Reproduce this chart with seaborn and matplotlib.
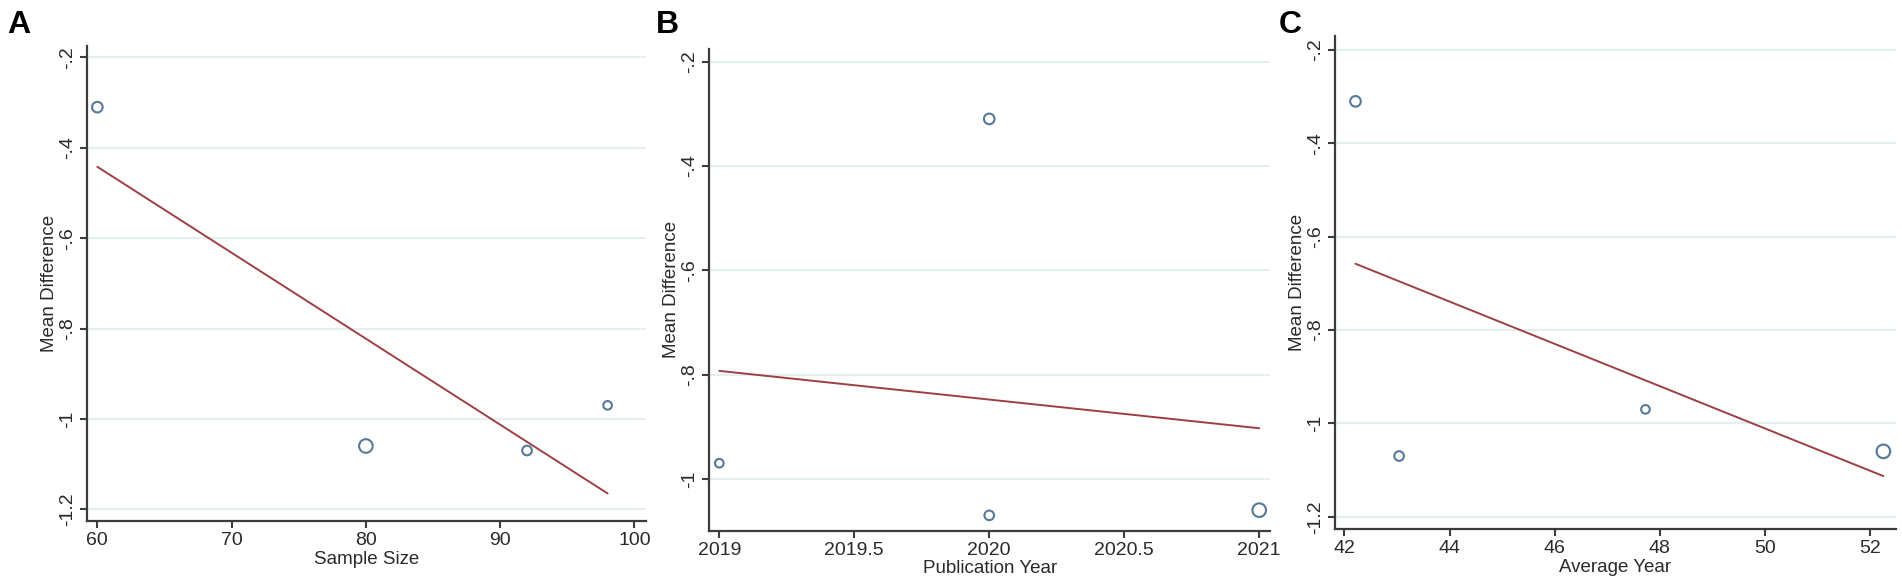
import numpy as np
import pandas as pd
import matplotlib
matplotlib.use("Agg")
import matplotlib.pyplot as plt
import seaborn as sns
from matplotlib import font_manager as fm

# ---------------- data ----------------
study_md = [-0.31, -1.06, -1.07, -0.97]          # mean difference per study
study_weight = [12, 15, 11, 10]                 # relative study weight (bubble size)
sample_size = [60, 80, 92, 98]
pub_year = [2020, 2021, 2020, 2019]
avg_year = [42.21, 52.26, 43.04, 47.73]

fit_sample_x = [60, 98]
fit_sample_y = [-0.442, -1.165]
fit_pub_x = [2019, 2021]
fit_pub_y = [-0.793, -0.903]
fit_avg_x = [42.21, 52.26]
fit_avg_y = [-0.658, -1.113]

xticks_a = [60, 70, 80, 90, 100]
xticklabels_a = ["60", "70", "80", "90", "100"]
xticks_b = [2019, 2019.5, 2020, 2020.5, 2021]
xticklabels_b = ["2019", "2019.5", "2020", "2020.5", "2021"]
xticks_c = [42, 44, 46, 48, 50, 52]
xticklabels_c = ["42", "44", "46", "48", "50", "52"]
yticks_ac = [-0.2, -0.4, -0.6, -0.8, -1.0, -1.2]
yticklabels_ac = ["-.2", "-.4", "-.6", "-.8", "-1", "-1.2"]
yticks_b = [-0.2, -0.4, -0.6, -0.8, -1.0]
yticklabels_b = ["-.2", "-.4", "-.6", "-.8", "-1"]

panel_letters = ["A", "B", "C"]
x_titles = ["Sample Size", "Publication Year", "Average Year"]
y_title = "Mean Difference"

# ---------------- style ----------------
sns.set_style("white")
names = {f.name for f in fm.fontManager.ttflist}
narrow = "Liberation Sans Narrow" if "Liberation Sans Narrow" in names else "Liberation Sans"
plt.rcParams["font.family"] = [narrow, "Liberation Sans", "DejaVu Sans"]
is_narrow = narrow == "Liberation Sans Narrow"
tick_fs = 15.5 if is_narrow else 14
lab_fs = 16 if is_narrow else 13.5

W, H = 1902, 586
fig = plt.figure(figsize=(W / 100, H / 100), dpi=100)
fig.patch.set_facecolor("white")

# axes boxes in pixels: left, top, right, bottom
boxes = [(87, 45.7, 646, 521), (709.3, 49, 1270, 530.5), (1335, 36, 1896, 529.3)]
xlims = [(59.23, 100.86), (2018.963, 2021.04), (41.82, 52.5)]
ylims = [(-1.226, -0.174), (-1.099, -0.176), (-1.227, -0.17)]
letter_pos = [(7, 33), (656, 33), (1279, 33)]

pt_color = "#56789a"
line_color = "#9e3f44"
grid_color = "#e6eef1"
axis_color = "#3c3c3c"
text_color = "#2a2a2a"

xs = [sample_size, pub_year, avg_year]
fits = [(fit_sample_x, fit_sample_y), (fit_pub_x, fit_pub_y), (fit_avg_x, fit_avg_y)]
xt = [(xticks_a, xticklabels_a), (xticks_b, xticklabels_b), (xticks_c, xticklabels_c)]
yt = [(yticks_ac, yticklabels_ac), (yticks_b, yticklabels_b), (yticks_ac, yticklabels_ac)]

sizes = [(w * 0.72 - 1.0) ** 2 for w in study_weight]

for i in range(3):
    l, t, r, b = boxes[i]
    ax = fig.add_axes([l / W, 1 - b / H, (r - l) / W, (b - t) / H])
    ax.set_facecolor("white")
    ax.set_xlim(*xlims[i])
    ax.set_ylim(*ylims[i])

    for yv in yt[i][0]:
        ax.axhline(yv, color=grid_color, lw=1.6, zorder=0)

    df = pd.DataFrame({"x": xs[i], "y": study_md})
    sns.scatterplot(data=df, x="x", y="y", s=sizes, marker="o",
                    facecolor="none", edgecolor=pt_color, linewidth=1.5,
                    ax=ax, zorder=3, legend=False)
    fx, fy = fits[i]
    sns.lineplot(x=fx, y=fy, color=line_color, linewidth=1.4, ax=ax, zorder=2)

    ax.set_xticks(xt[i][0])
    ax.set_xticklabels(xt[i][1])
    ax.set_yticks(yt[i][0])
    ax.set_yticklabels(yt[i][1], rotation=90, va="center")
    ax.tick_params(axis="both", which="major", direction="out", length=5, width=1.5,
                   color=axis_color, labelcolor=text_color, labelsize=tick_fs, pad=3,
                   bottom=True, left=True)
    ax.tick_params(axis="x", pad=3)

    for side in ["top", "right"]:
        ax.spines[side].set_visible(False)
    for side in ["left", "bottom"]:
        ax.spines[side].set_color(axis_color)
        ax.spines[side].set_linewidth(1.6)

    ax.set_xlabel(x_titles[i], fontsize=lab_fs, color=text_color, labelpad=1)
    ax.set_ylabel(y_title, fontsize=lab_fs, color=text_color, labelpad=1)
    ax.grid(False)

    lx, ly = letter_pos[i]
    fig.text(lx / W, 1 - ly / H, panel_letters[i], fontsize=23, fontweight="bold",
             family=["Liberation Sans", "DejaVu Sans"], color="black",
             ha="left", va="baseline")

fig.savefig("out.png", dpi=100, facecolor="white")
